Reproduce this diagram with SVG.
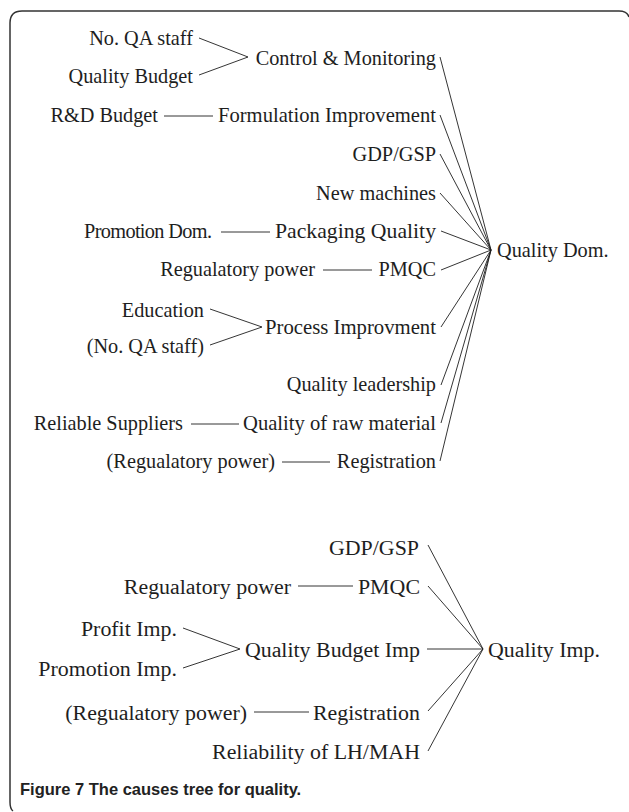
<svg xmlns="http://www.w3.org/2000/svg" width="629" height="812" viewBox="0 0 629 812">
<style>
text{font-family:"Liberation Serif","Times New Roman",serif;fill:#1e1e1e}
.u{font-size:20.3px}
.l{font-size:21.9px}
.e{text-anchor:end}
.cap{font-family:"Liberation Sans",Arial,sans-serif;font-weight:bold;font-size:16.5px;fill:#222}
#connectors path,#connectors line{stroke:#1e1e1e;stroke-width:0.9;fill:none}
.frame{stroke:#333;stroke-width:1.5;fill:none}
</style>
<rect width="629" height="812" fill="#fff"/>
<path class="frame" d="M 629 17 Q 627 11 619 11 H 22 Q 10 11 10 23 V 802 Q 10 809 13 811"/>
<g id="connectors">
<path d="M199 38 L248 57 L199 75"/>
<line x1="164" y1="116" x2="213" y2="116"/>
<line x1="221" y1="232" x2="270" y2="232"/>
<line x1="323" y1="270" x2="372" y2="270"/>
<path d="M210 309 L262 327 L210 345"/>
<line x1="191" y1="424" x2="239" y2="424"/>
<line x1="282" y1="462" x2="330" y2="462"/>
<line x1="440" y1="57" x2="491" y2="250"/>
<line x1="440" y1="115" x2="491" y2="250"/>
<line x1="440" y1="154" x2="491" y2="250"/>
<line x1="440" y1="193" x2="491" y2="250"/>
<line x1="441" y1="231" x2="491" y2="250"/>
<line x1="441" y1="270" x2="491" y2="250"/>
<line x1="441" y1="327" x2="491" y2="250"/>
<line x1="441" y1="385" x2="491" y2="250"/>
<line x1="441" y1="423" x2="491" y2="250"/>
<line x1="440" y1="461" x2="491" y2="250"/>
<line x1="298" y1="586" x2="353" y2="586"/>
<line x1="254" y1="712" x2="309" y2="712"/>
<path d="M183 628 L240 649 L183 668"/>
<line x1="428" y1="545" x2="483" y2="649"/>
<line x1="428" y1="586" x2="483" y2="649"/>
<line x1="427" y1="649" x2="483" y2="649"/>
<line x1="428" y1="711" x2="483" y2="649"/>
<line x1="428" y1="751" x2="483" y2="649"/>
</g>
<g id="n-noqa"><text class="u e" x="193" y="45">No. QA staff</text></g>
<g id="n-qbudget"><text class="u e" x="193" y="83">Quality Budget</text></g>
<g id="n-control"><text class="u e" x="436" y="65">Control &amp; Monitoring</text></g>
<g id="n-rdbudget"><text class="u e" x="158" y="122">R&amp;D Budget</text></g>
<g id="n-formulation"><text class="u" x="218" y="122" textLength="218" lengthAdjust="spacingAndGlyphs">Formulation Improvement</text></g>
<g id="n-gdp1"><text class="u e" x="436" y="161">GDP/GSP</text></g>
<g id="n-machines"><text class="u e" x="436" y="200">New machines</text></g>
<g id="n-promdom"><text class="u" x="84" y="238" textLength="128" lengthAdjust="spacing">Promotion Dom.</text></g>
<g id="n-packaging"><text class="u" x="275" y="238" textLength="161" lengthAdjust="spacingAndGlyphs">Packaging Quality</text></g>
<g id="n-regpow1"><text class="u e" x="315" y="276">Regualatory power</text></g>
<g id="n-pmqc1"><text class="u e" x="436" y="276">PMQC</text></g>
<g id="n-education"><text class="u e" x="204" y="317">Education</text></g>
<g id="n-noqa2"><text class="u e" x="204" y="353">(No. QA staff)</text></g>
<g id="n-process"><text class="u" x="265" y="334" textLength="171" lengthAdjust="spacingAndGlyphs">Process Improvment</text></g>
<g id="n-leadership"><text class="u e" x="436" y="391">Quality leadership</text></g>
<g id="n-suppliers"><text class="u e" x="183" y="430">Reliable Suppliers</text></g>
<g id="n-rawmat"><text class="u" x="243" y="430" textLength="193" lengthAdjust="spacingAndGlyphs">Quality of raw material</text></g>
<g id="n-regpow2"><text class="u e" x="275" y="468">(Regualatory power)</text></g>
<g id="n-reg1"><text class="u e" x="436" y="468">Registration</text></g>
<g id="n-qdom"><text class="u" x="497" y="257">Quality Dom.</text></g>
<g id="n-gdp2"><text class="l e" x="419" y="555">GDP/GSP</text></g>
<g id="n-regpow3"><text class="l e" x="291" y="594">Regualatory power</text></g>
<g id="n-pmqc2"><text class="l e" x="420" y="594">PMQC</text></g>
<g id="n-profit"><text class="l e" x="177" y="636">Profit Imp.</text></g>
<g id="n-promimp"><text class="l e" x="177" y="676">Promotion Imp.</text></g>
<g id="n-qbimp"><text class="l e" x="420" y="657">Quality Budget Imp</text></g>
<g id="n-regpow4"><text class="l e" x="247" y="720">(Regualatory power)</text></g>
<g id="n-reg2"><text class="l e" x="420" y="720">Registration</text></g>
<g id="n-lhmah"><text class="l e" x="420" y="759">Reliability of LH/MAH</text></g>
<g id="n-qimp"><text class="l" x="488" y="657">Quality Imp.</text></g>
<text class="cap" x="20" y="795">Figure 7 The causes tree for quality.</text>
</svg>
